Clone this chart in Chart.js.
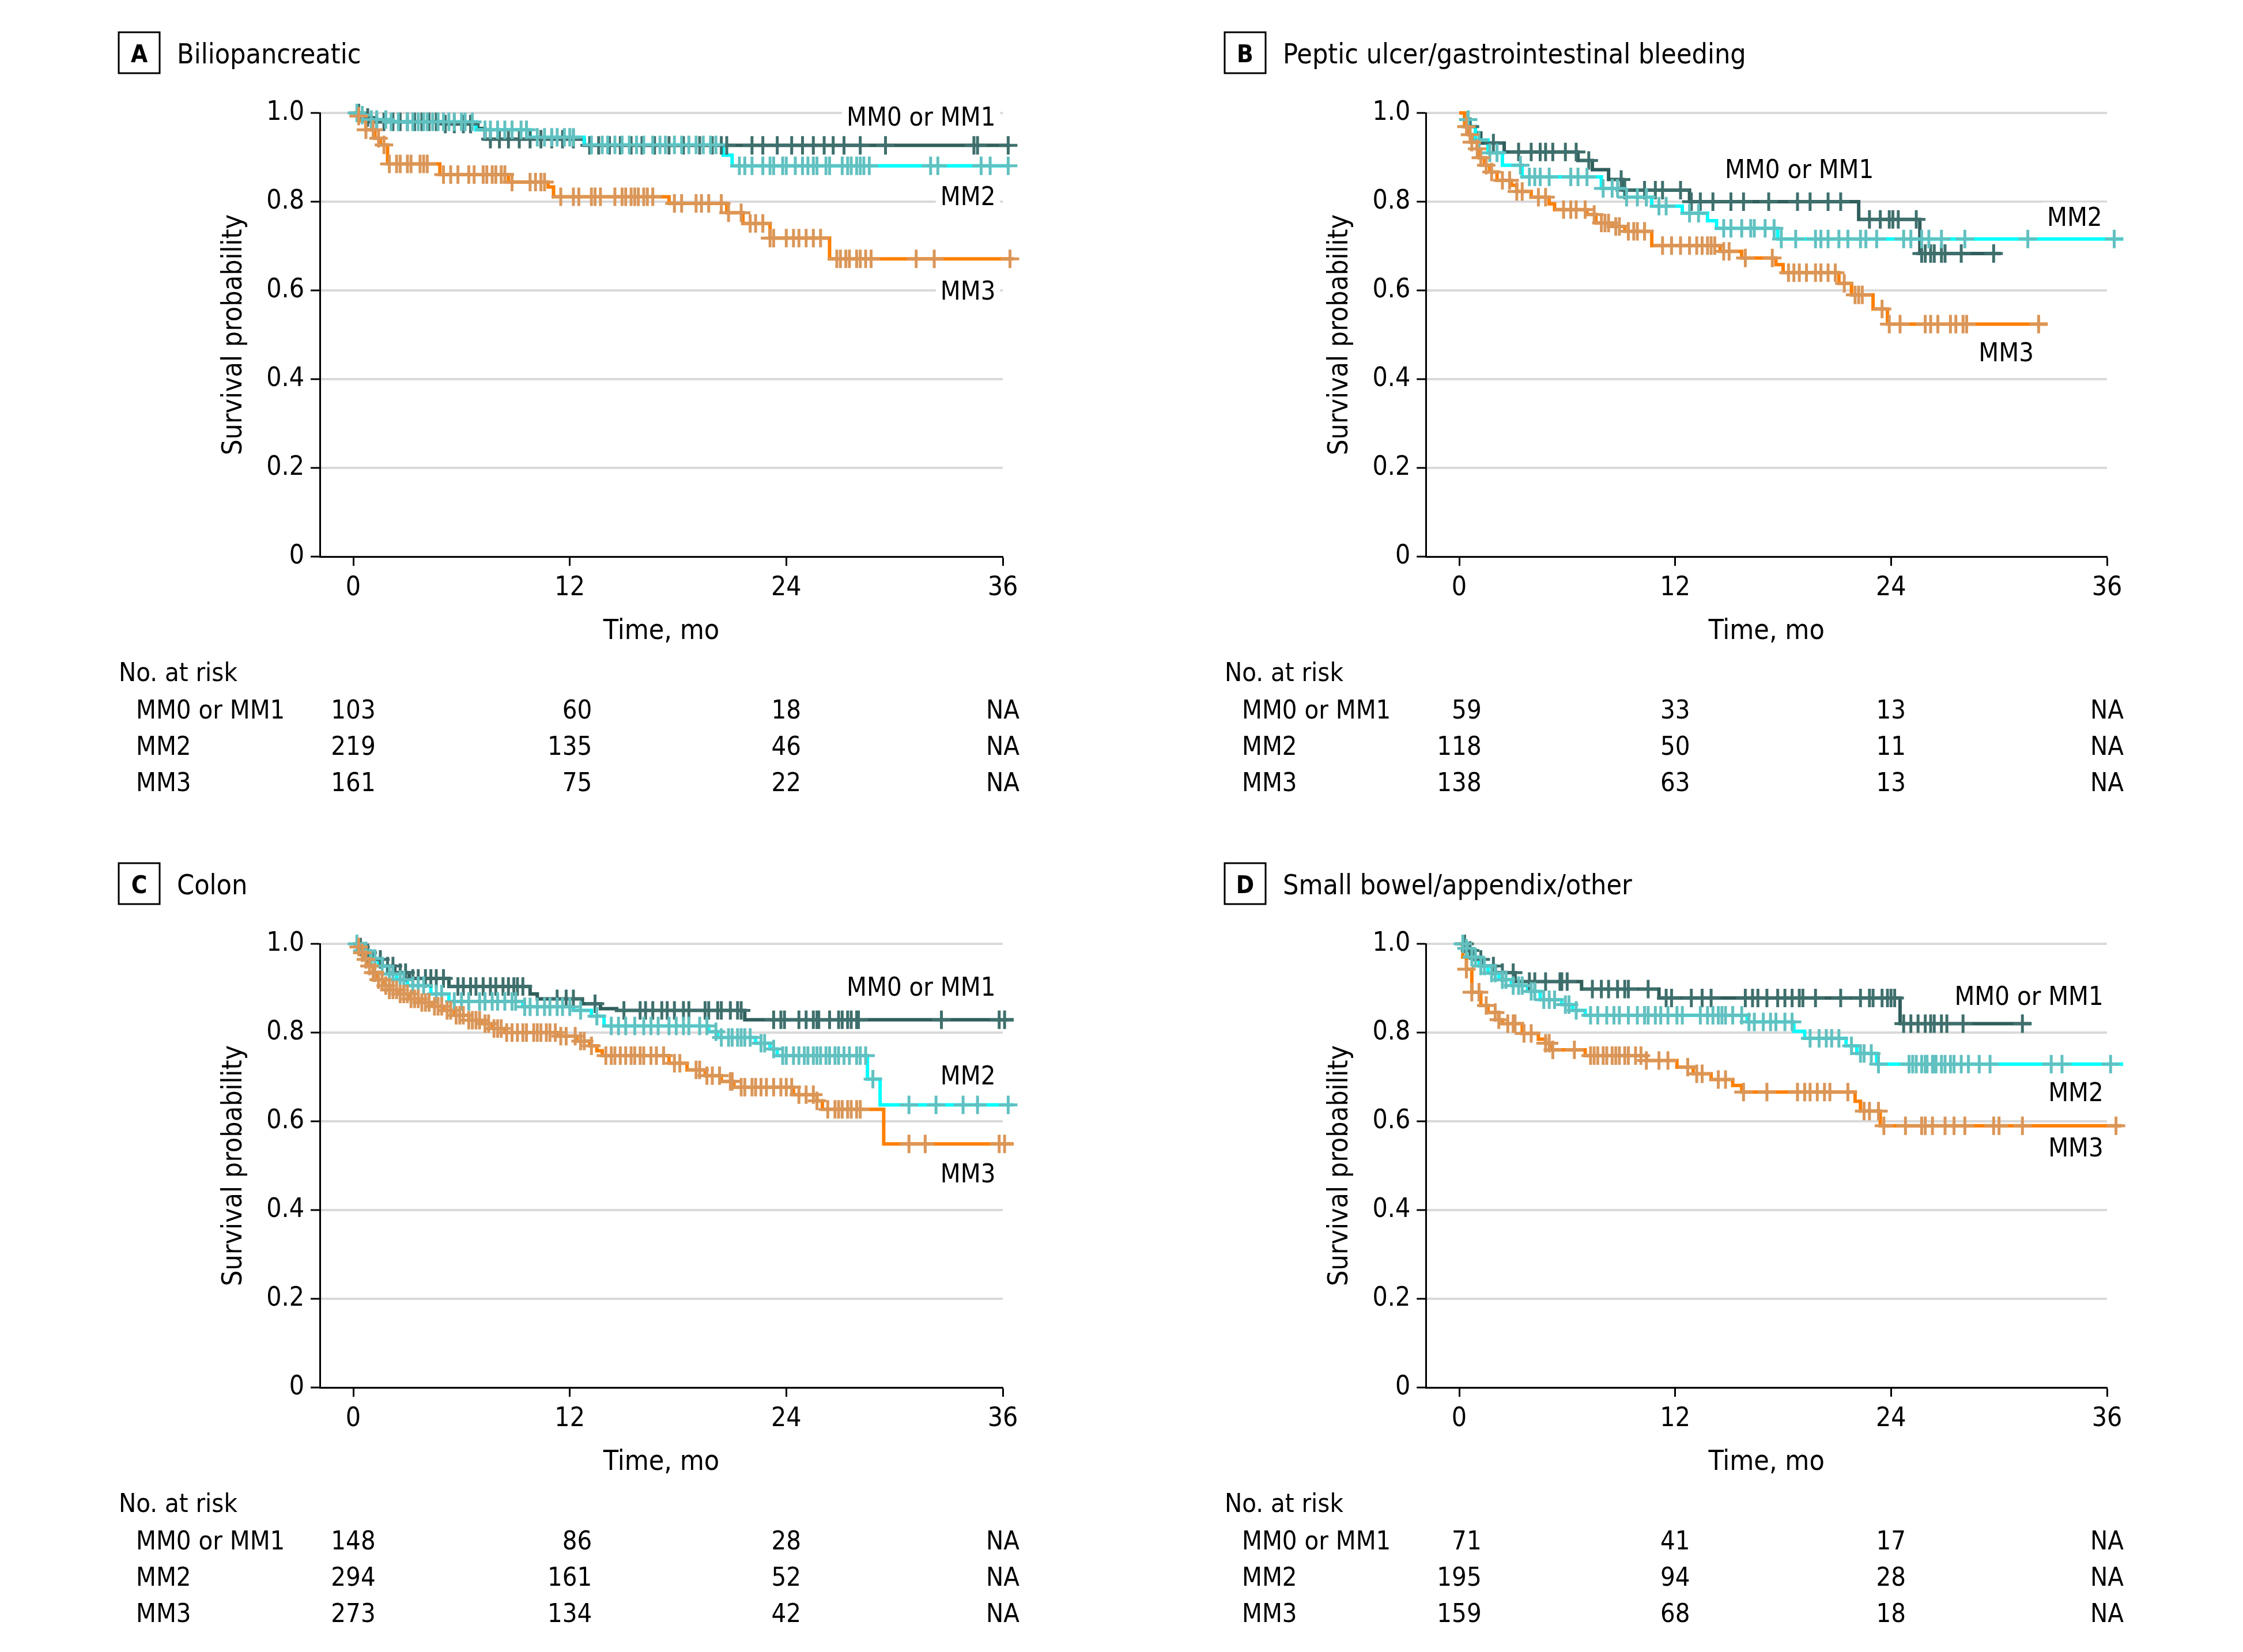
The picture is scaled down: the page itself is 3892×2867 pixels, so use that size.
<!DOCTYPE html>
<html>
<head>
<meta charset="utf-8">
<script src="https://cdn.jsdelivr.net/npm/chart.js@4.4.0/dist/chart.umd.min.js"></script>
<style>
  html, body { margin: 0; padding: 0; background: #fff; }
  #page { position: relative; width: 3892px; height: 2867px; background: #fff; overflow: hidden; }
  canvas { position: absolute; }
</style>
</head>
<body>
<div id="page">
  <canvas id="panelA" width="1946" height="1442" style="left:0px;top:0px"></canvas>
  <canvas id="panelB" width="1946" height="1442" style="left:1946px;top:0px"></canvas>
  <canvas id="panelC" width="1946" height="1425" style="left:0px;top:1442px"></canvas>
  <canvas id="panelD" width="1946" height="1425" style="left:1946px;top:1442px"></canvas>
</div>
<script>
const FONT = '"DejaVu Sans Condensed", "Open Sans", sans-serif'
const CAP = 0.73

// axes
const xTicks = [0, 12, 24, 36]
const xTickLabels = ['0', '12', '24', '36']
const yTicks = [0, 0.2, 0.4, 0.6, 0.8, 1.0]
const yTickLabels = ['0', '0.2', '0.4', '0.6', '0.8', '1.0']
const groupNames = ['MM0 or MM1', 'MM2', 'MM3']
const riskTimes = [0, 12, 24, 36]

// A - Biliopancreatic
const aTitle = 'Biliopancreatic'
const aMm01Time = [0, 0.4, 1.0, 5.0, 6.9, 7.3, 12.8, 36.4]
const aMm01Surv = [1, 0.99, 0.98, 0.975, 0.965, 0.941, 0.927, 0.927]
const aMm01Cens = [0.3, 0.8, 1.3, 1.7, 2.2, 2.6, 3.0, 3.4, 3.8, 4.2, 4.6, 5.1, 5.6, 6.1, 6.5, 7.6, 8.1, 8.6, 9.2, 9.8, 10.4, 11.0, 11.6, 12.2, 13.1, 13.6, 14.2, 14.8, 15.4, 16.0, 16.7, 17.5, 18.3, 19.2, 19.9, 20.4, 20.7, 22.1, 22.7, 23.5, 24.3, 24.9, 25.5, 26.1, 26.6, 27.2, 28.1, 29.5, 34.4, 34.6, 36.3]
const aMm2Time = [0, 0.3, 0.8, 2.0, 6.8, 9.8, 12.8, 20.5, 21.0, 36.4]
const aMm2Surv = [1, 0.995, 0.985, 0.98, 0.962, 0.945, 0.928, 0.905, 0.881, 0.881]
const aMm2Cens = [0.2, 0.5, 1.0, 1.3, 1.8, 2.1, 2.5, 3.0, 3.3, 3.6, 3.9, 4.1, 4.4, 4.7, 5.0, 5.3, 5.6, 6.0, 6.2, 6.6, 7.3, 7.6, 8.0, 8.4, 8.8, 9.3, 9.6, 10.2, 10.6, 11.0, 11.3, 11.7, 12.0, 12.2, 13.2, 13.8, 14.1, 14.5, 14.9, 15.3, 15.7, 16.1, 16.6, 17.0, 17.3, 17.8, 18.2, 18.6, 19.0, 19.4, 19.8, 20.1, 21.4, 21.7, 22.1, 22.7, 23.1, 23.3, 23.8, 24.0, 24.5, 24.9, 25.2, 25.5, 25.7, 26.2, 26.4, 27.1, 27.4, 27.6, 27.9, 28.1, 28.3, 28.6, 32.0, 32.4, 34.8, 35.3, 36.3]
const aMm3Time = [0, 0.2, 0.4, 0.7, 1.2, 1.5, 1.9, 4.8, 8.6, 10.8, 11.1, 17.5, 20.7, 21.6, 23.1, 26.4, 36.6]
const aMm3Surv = [1, 0.993, 0.982, 0.962, 0.943, 0.928, 0.885, 0.861, 0.844, 0.833, 0.811, 0.796, 0.775, 0.751, 0.718, 0.671, 0.671]
const aMm3Cens = [0.3, 0.7, 1.1, 1.4, 1.7, 2.0, 2.4, 2.6, 3.0, 3.2, 3.7, 3.9, 4.1, 5.0, 5.4, 5.8, 6.4, 6.7, 7.2, 7.4, 7.7, 7.9, 8.2, 8.4, 8.8, 9.8, 10.1, 10.4, 10.6, 11.5, 12.2, 12.5, 13.2, 13.4, 13.7, 14.5, 14.9, 15.1, 15.4, 15.6, 15.8, 16.1, 16.3, 16.6, 17.8, 18.2, 19.0, 19.3, 19.7, 20.4, 20.8, 21.5, 22.0, 22.3, 22.7, 23.1, 23.3, 24.0, 24.4, 24.7, 25.1, 25.5, 25.9, 26.8, 27.0, 27.3, 27.5, 27.9, 28.1, 28.4, 28.7, 31.2, 32.2, 36.4]
const aRiskMm01 = ['103', '60', '18', 'NA']
const aRiskMm2 = ['219', '135', '46', 'NA']
const aRiskMm3 = ['161', '75', '22', 'NA']

// B - Peptic ulcer/gastrointestinal bleeding
const bTitle = 'Peptic ulcer/gastrointestinal bleeding'
const bMm01Time = [0, 0.3, 0.6, 0.9, 1.2, 2.5, 6.6, 7.4, 8.3, 9.1, 12.8, 22.2, 25.6, 30.1]
const bMm01Surv = [1, 0.985, 0.969, 0.955, 0.932, 0.912, 0.893, 0.872, 0.85, 0.826, 0.8, 0.76, 0.683, 0.683]
const bMm01Cens = [0.6, 1.9, 3.3, 4.0, 4.5, 4.8, 5.2, 5.9, 6.5, 7.2, 9.0, 9.2, 10.3, 10.9, 11.3, 12.3, 12.9, 13.4, 14.1, 15.1, 15.8, 17.2, 18.8, 19.5, 20.5, 21.2, 22.8, 23.4, 23.9, 24.1, 24.4, 25.4, 25.7, 25.9, 26.2, 26.4, 26.8, 27.0, 27.9, 29.7]
const bMm2Time = [0, 0.3, 0.6, 0.9, 1.6, 2.4, 3.5, 7.9, 9.2, 10.7, 12.4, 13.8, 14.3, 17.7, 36.9]
const bMm2Surv = [1, 0.985, 0.969, 0.939, 0.91, 0.882, 0.856, 0.83, 0.81, 0.79, 0.774, 0.757, 0.74, 0.716, 0.716]
const bMm2Cens = [0.5, 1.1, 1.7, 2.1, 3.4, 3.9, 4.2, 4.5, 5.0, 6.2, 6.6, 7.1, 8.0, 8.5, 8.8, 9.3, 9.9, 10.4, 11.1, 11.5, 12.8, 13.3, 14.7, 15.1, 15.7, 16.2, 16.4, 17.0, 17.5, 17.9, 18.7, 19.8, 20.1, 20.5, 21.1, 21.6, 22.3, 22.6, 23.2, 24.7, 25.1, 25.7, 26.1, 26.8, 28.1, 31.6, 36.4]
const bMm3Time = [0, 0.3, 0.5, 0.7, 1.0, 1.1, 1.4, 1.7, 2.1, 2.9, 3.2, 4.0, 5.0, 5.3, 7.1, 7.6, 8.5, 9.2, 10.7, 14.5, 15.7, 17.6, 18.0, 21.1, 21.8, 23.0, 23.8, 32.7]
const bMm3Surv = [1, 0.969, 0.951, 0.934, 0.919, 0.899, 0.882, 0.867, 0.848, 0.837, 0.823, 0.81, 0.795, 0.782, 0.771, 0.752, 0.744, 0.733, 0.701, 0.688, 0.673, 0.658, 0.64, 0.616, 0.59, 0.558, 0.524, 0.524]
const bMm3Cens = [0.4, 0.6, 0.7, 1.0, 1.2, 1.5, 1.8, 2.4, 2.8, 3.2, 3.5, 4.4, 4.8, 5.8, 6.2, 6.5, 7.0, 7.5, 7.9, 8.1, 8.3, 8.7, 8.9, 9.4, 9.7, 9.9, 10.3, 11.3, 11.8, 12.3, 12.8, 13.2, 13.5, 13.8, 14.0, 14.2, 14.7, 15.0, 15.9, 17.4, 18.3, 18.6, 18.9, 19.3, 19.8, 20.1, 20.5, 20.9, 21.4, 22.0, 22.2, 22.4, 23.5, 23.9, 24.5, 25.9, 26.2, 26.6, 27.3, 27.6, 28.0, 28.2, 32.2]
const bRiskMm01 = ['59', '33', '13', 'NA']
const bRiskMm2 = ['118', '50', '11', 'NA']
const bRiskMm3 = ['138', '63', '13', 'NA']

// C - Colon
const cTitle = 'Colon'
const cMm01Time = [0, 0.3, 0.6, 1.1, 1.6, 2.3, 3.1, 5.3, 9.8, 10.2, 12.7, 13.7, 14.6, 21.7, 36.6]
const cMm01Surv = [1, 0.993, 0.98, 0.965, 0.95, 0.935, 0.922, 0.904, 0.887, 0.876, 0.865, 0.854, 0.85, 0.829, 0.829]
const cMm01Cens = [0.4, 0.8, 1.2, 1.5, 1.9, 2.2, 2.6, 2.9, 3.3, 3.6, 4.0, 4.3, 4.6, 5.0, 5.8, 6.1, 6.5, 6.8, 7.2, 7.6, 7.9, 8.3, 8.6, 8.9, 9.1, 9.4, 11.3, 11.8, 12.2, 13.4, 15.0, 15.9, 16.2, 16.6, 17.1, 17.4, 17.8, 18.3, 18.6, 19.5, 19.7, 20.2, 20.4, 20.9, 21.3, 21.5, 23.3, 23.7, 23.9, 24.7, 25.1, 25.5, 25.7, 25.8, 26.4, 26.9, 27.1, 27.4, 27.6, 27.9, 28.0, 32.6, 35.8, 36.1, 36.3]
const cMm2Time = [0, 0.3, 0.9, 1.4, 1.9, 2.4, 3.0, 4.3, 5.3, 9.4, 12.2, 13.2, 13.9, 19.7, 20.2, 22.3, 23.1, 23.5, 28.5, 29.2, 36.6]
const cMm2Surv = [1, 0.984, 0.967, 0.95, 0.932, 0.919, 0.906, 0.887, 0.87, 0.858, 0.85, 0.837, 0.815, 0.802, 0.789, 0.776, 0.763, 0.748, 0.695, 0.637, 0.637]
const cMm2Cens = [0.2, 0.5, 0.7, 1.0, 1.2, 1.6, 2.0, 2.2, 2.6, 2.8, 3.3, 3.6, 3.9, 4.6, 4.9, 5.6, 6.0, 6.4, 7.0, 7.3, 7.7, 8.0, 8.4, 8.8, 9.0, 9.5, 9.8, 10.2, 10.6, 10.9, 11.3, 11.6, 12.0, 12.6, 13.5, 14.3, 14.7, 15.1, 15.6, 16.1, 16.5, 16.9, 17.5, 17.9, 18.3, 18.6, 19.2, 19.6, 20.1, 20.4, 20.8, 21.0, 21.3, 21.5, 21.7, 22.0, 22.6, 22.8, 23.3, 23.8, 24.0, 24.4, 24.7, 25.0, 25.2, 25.5, 25.7, 25.9, 26.2, 26.4, 26.7, 26.9, 27.2, 27.5, 27.9, 28.1, 28.4, 28.8, 30.8, 32.3, 33.8, 34.6, 36.3]
const cMm3Time = [0, 0.2, 0.5, 0.6, 0.8, 1.1, 1.3, 1.7, 2.0, 2.5, 3.1, 3.7, 4.4, 5.0, 5.6, 6.4, 7.1, 7.7, 8.4, 11.3, 12.4, 13.1, 13.5, 13.8, 17.5, 18.5, 19.5, 20.4, 21.1, 24.4, 25.7, 26.0, 29.4, 36.6]
const cMm3Surv = [1, 0.993, 0.98, 0.965, 0.95, 0.935, 0.919, 0.906, 0.896, 0.887, 0.876, 0.868, 0.859, 0.85, 0.839, 0.828, 0.82, 0.809, 0.8, 0.792, 0.781, 0.77, 0.759, 0.748, 0.731, 0.716, 0.703, 0.69, 0.677, 0.66, 0.646, 0.627, 0.549, 0.549]
const cMm3Cens = [0.3, 0.5, 0.7, 0.9, 1.1, 1.2, 1.4, 1.6, 1.8, 2.0, 2.2, 2.4, 2.6, 2.8, 3.0, 3.2, 3.4, 3.6, 3.8, 4.0, 4.2, 4.5, 4.7, 4.9, 5.2, 5.4, 5.7, 5.9, 6.1, 6.4, 6.6, 6.8, 7.0, 7.3, 7.5, 7.8, 8.0, 8.2, 8.5, 8.8, 9.1, 9.4, 9.6, 10.0, 10.2, 10.4, 10.7, 10.9, 11.2, 11.5, 11.8, 12.3, 12.6, 12.8, 13.2, 14.0, 14.3, 14.5, 14.8, 15.1, 15.4, 15.6, 15.9, 16.1, 16.5, 16.8, 17.2, 17.8, 18.1, 19.0, 19.2, 19.6, 19.9, 20.3, 20.9, 21.0, 21.5, 21.7, 22.1, 22.3, 22.6, 22.9, 23.3, 23.7, 24.0, 24.3, 24.7, 25.1, 25.5, 25.7, 26.3, 26.7, 26.9, 27.1, 27.4, 27.6, 27.9, 28.1, 30.8, 31.7, 35.8, 36.1]
const cRiskMm01 = ['148', '86', '28', 'NA']
const cRiskMm2 = ['294', '161', '52', 'NA']
const cRiskMm3 = ['273', '134', '42', 'NA']

// D - Small bowel/appendix/other
const dTitle = 'Small bowel/appendix/other'
const dMm01Time = [0, 0.4, 0.8, 1.3, 2.0, 3.1, 6.8, 11.1, 24.5, 31.8]
const dMm01Surv = [1, 0.985, 0.965, 0.95, 0.935, 0.915, 0.898, 0.878, 0.82, 0.82]
const dMm01Cens = [0.3, 0.6, 1.2, 1.9, 2.4, 3.0, 3.9, 4.2, 4.8, 5.6, 5.7, 6.0, 7.4, 7.9, 8.3, 8.8, 9.2, 9.4, 10.5, 11.5, 11.8, 12.9, 13.5, 14.0, 15.9, 16.3, 16.6, 17.1, 17.7, 18.1, 18.5, 18.9, 19.1, 19.8, 21.2, 22.3, 22.8, 23.0, 23.5, 23.8, 24.0, 24.2, 24.7, 25.1, 25.5, 25.9, 26.2, 26.4, 26.8, 27.1, 28.0, 31.3]
const dMm2Time = [0, 0.3, 0.6, 1.1, 1.6, 2.2, 2.9, 3.8, 4.5, 5.7, 6.3, 7.0, 16.0, 18.6, 19.2, 21.5, 22.1, 23.2, 36.9]
const dMm2Surv = [1, 0.99, 0.97, 0.95, 0.934, 0.919, 0.906, 0.893, 0.874, 0.863, 0.85, 0.839, 0.824, 0.803, 0.787, 0.77, 0.753, 0.729, 0.729]
const dMm2Cens = [0.2, 0.4, 0.7, 0.9, 1.2, 1.4, 1.8, 2.0, 2.4, 2.6, 3.0, 3.3, 3.5, 4.0, 4.2, 4.7, 5.0, 5.3, 5.9, 6.1, 6.5, 7.3, 7.7, 8.2, 8.6, 8.9, 9.4, 9.9, 10.3, 10.5, 10.9, 11.2, 11.6, 12.1, 12.4, 13.4, 13.8, 14.1, 14.4, 14.6, 14.8, 15.2, 15.7, 16.1, 16.4, 16.9, 17.3, 17.6, 18.1, 18.5, 19.5, 20.0, 20.4, 20.7, 21.1, 21.8, 22.3, 22.5, 22.9, 23.3, 25.0, 25.2, 25.4, 25.7, 25.9, 26.0, 26.3, 26.4, 26.5, 26.8, 27.0, 27.3, 27.5, 27.9, 28.3, 28.9, 29.5, 32.9, 33.5, 36.2, 36.5]
const dMm3Time = [0, 0.2, 0.4, 0.7, 1.2, 1.6, 2.2, 2.4, 3.5, 4.4, 4.8, 5.1, 7.0, 10.4, 12.1, 13.0, 14.0, 15.2, 15.7, 22.0, 22.3, 23.4, 36.8]
const dMm3Surv = [1, 0.97, 0.943, 0.891, 0.861, 0.845, 0.829, 0.82, 0.798, 0.785, 0.776, 0.761, 0.748, 0.737, 0.722, 0.707, 0.694, 0.681, 0.666, 0.645, 0.623, 0.59, 0.59]
const dMm3Cens = [0.4, 0.7, 1.1, 1.5, 2.0, 2.2, 2.7, 3.0, 3.1, 3.6, 4.0, 4.8, 5.0, 5.2, 6.4, 7.3, 7.5, 7.7, 8.0, 8.2, 8.5, 8.7, 8.9, 9.2, 9.4, 9.8, 10.1, 10.4, 11.1, 11.6, 12.7, 13.2, 13.5, 14.4, 14.8, 15.8, 17.1, 18.8, 19.2, 19.5, 19.9, 20.3, 20.6, 21.6, 22.5, 22.8, 23.3, 23.6, 24.8, 25.7, 25.9, 26.3, 27.0, 27.5, 28.1, 29.7, 30.0, 31.3, 36.5]
const dRiskMm01 = ['71', '41', '17', 'NA']
const dRiskMm2 = ['195', '94', '28', 'NA']
const dRiskMm3 = ['159', '68', '18', 'NA']

// styles
const lineColors = ['#2F5E5B', '#00FFFF', '#FF7F00']
const censorColors = ['#3E6F6C', '#62C0C0', '#DA9658']
const X_MIN = -1.85

function survAt(times, surv, t) {
  let s = surv[0]
  for (let i = 0; i < times.length; i++) {
    if (times[i] <= t) s = surv[i]
  }
  return s
}

function txt(ctx, s, x, y, size, align, weight) {
  ctx.font = (weight || 'normal') + ' ' + size + 'px ' + FONT
  ctx.textAlign = align
  ctx.textBaseline = 'alphabetic'
  ctx.fillStyle = '#000'
  ctx.fillText(s, x, y)
}

function makeDecor(spec) {
  return {
    id: 'panelDecor',
    beforeDatasetsDraw(chart) {
      const ctx = chart.ctx
      const xs = chart.scales.x, ys = chart.scales.y
      ctx.save()
      ctx.font = '45px ' + FONT
      spec.labels.forEach((lb, i) => {
        const w = ctx.measureText(groupNames[i]).width
        let x = xs.getPixelForValue(lb.t)
        const y = ys.getPixelForValue(lb.s)
        x -= lb.align === 'center' ? w / 2 : w
        ctx.fillStyle = '#fff'
        ctx.fillRect(x - 8, y - 24, w + 16, 48)
        txt(ctx, groupNames[i], x, y + CAP * 45 / 2, 45, 'left')
      })
      ctx.restore()
    },
    afterDraw(chart) {
      const ctx = chart.ctx
      const xs = chart.scales.x, ys = chart.scales.y
      const x0 = xs.getPixelForValue(0)
      const y0 = ys.getPixelForValue(0)
      const y1 = ys.getPixelForValue(1)
      ctx.save()
      // panel letter box and title
      ctx.strokeStyle = '#000'
      ctx.lineWidth = 3
      ctx.strokeRect(x0 - 407, y1 - 140, 71, 71)
      txt(ctx, spec.letter, x0 - 371.5, y1 - 88, 42, 'center', 'bold')
      txt(ctx, spec.title, x0 - 306, y1 - 86, 48, 'left')
      // y axis title
      ctx.save()
      ctx.translate(x0 - 194, (y0 + y1) / 2)
      ctx.rotate(-Math.PI / 2)
      txt(ctx, 'Survival probability', 0, 0, 48, 'center')
      ctx.restore()
      // x axis title
      txt(ctx, 'Time, mo', (xs.left + xs.right) / 2, y0 + 143, 48, 'center')
      // risk table
      txt(ctx, 'No. at risk', x0 - 407, y0 + 216, 45, 'left')
      const rowY = [y0 + 281, y0 + 344, y0 + 407]
      ctx.font = '45px ' + FONT
      riskTimes.forEach((t, j) => {
        const tx = xs.getPixelForValue(t)
        let maxW = 0
        spec.risk.forEach(r => { maxW = Math.max(maxW, ctx.measureText(r[j]).width) })
        spec.risk.forEach((r, i) => {
          txt(ctx, r[j], tx + maxW / 2, rowY[i], 45, 'right')
        })
      })
      groupNames.forEach((g, i) => txt(ctx, g, x0 - 377, rowY[i], 45, 'left'))
      ctx.restore()
    }
  }
}

function buildPanel(canvasId, box, spec, curves) {
  const unit = (box.x36 - box.x0) / 36
  const chartLeft = box.x0 + X_MIN * unit
  const datasets = []
  curves.forEach((c, i) => {
    datasets.push({
      data: c.time.map((t, k) => ({ x: t, y: c.surv[k] })),
      showLine: true,
      stepped: 'before',
      borderColor: lineColors[i],
      borderWidth: 6,
      pointRadius: 0,
      clip: false,
      order: 10 - i
    })
  })
  curves.forEach((c, i) => {
    datasets.push({
      data: c.cens.map(t => ({ x: t, y: survAt(c.time, c.surv, t) })),
      showLine: false,
      pointStyle: 'cross',
      pointRadius: 16,
      borderWidth: 5,
      borderColor: censorColors[i],
      backgroundColor: censorColors[i],
      clip: false,
      order: 5 - i
    })
  })

  new Chart(document.getElementById(canvasId).getContext('2d'), {
    type: 'scatter',
    data: { datasets },
    options: {
      responsive: false,
      animation: false,
      devicePixelRatio: 1,
      events: [],
      layout: {
        padding: { left: 0, top: box.y1 - box.top, right: box.left + box.w - box.x36, bottom: 0 }
      },
      plugins: { legend: { display: false }, tooltip: { enabled: false } },
      scales: {
        x: {
          type: 'linear',
          min: X_MIN,
          max: 36,
          afterBuildTicks: s => { s.ticks = xTicks.map(v => ({ value: v })) },
          afterFit: s => { s.height = box.top + box.h - box.y0 },
          ticks: {
            callback: v => xTickLabels[xTicks.indexOf(v)],
            font: { family: FONT, size: 46 },
            color: '#000',
            padding: 11,
            maxRotation: 0,
            autoSkip: false
          },
          grid: { drawOnChartArea: false, tickLength: 16, tickWidth: 3, tickColor: '#000' },
          border: { color: '#000', width: 3 }
        },
        y: {
          type: 'linear',
          min: 0,
          max: 1,
          afterBuildTicks: s => { s.ticks = yTicks.map(v => ({ value: v })) },
          afterFit: s => { s.width = chartLeft - box.left },
          ticks: {
            callback: v => yTickLabels[yTicks.indexOf(v)],
            font: { family: FONT, size: 46 },
            color: '#000',
            padding: 11
          },
          grid: { color: '#D9D9D9', lineWidth: 4, tickLength: 16, tickWidth: 3, tickColor: '#000' },
          border: { color: '#000', width: 3 }
        }
      }
    },
    plugins: [makeDecor(spec)]
  })
}

buildPanel('panelA',
  { left: 0, top: 0, w: 1946, h: 1442, x0: 613, x36: 1740, y1: 196, y0: 966 },
  { letter: 'A', title: aTitle, risk: [aRiskMm01, aRiskMm2, aRiskMm3],
    labels: [{ t: 35.6, s: 0.993 }, { t: 35.6, s: 0.814 }, { t: 35.6, s: 0.60 }] },
  [{ time: aMm01Time, surv: aMm01Surv, cens: aMm01Cens },
   { time: aMm2Time, surv: aMm2Surv, cens: aMm2Cens },
   { time: aMm3Time, surv: aMm3Surv, cens: aMm3Cens }])

buildPanel('panelB',
  { left: 1946, top: 0, w: 1946, h: 1442, x0: 2532, x36: 3656, y1: 196, y0: 966 },
  { letter: 'B', title: bTitle, risk: [bRiskMm01, bRiskMm2, bRiskMm3],
    labels: [{ t: 18.9, s: 0.874, align: 'center' }, { t: 34.2, s: 0.767, align: 'center' }, { t: 30.4, s: 0.461, align: 'center' }] },
  [{ time: bMm01Time, surv: bMm01Surv, cens: bMm01Cens },
   { time: bMm2Time, surv: bMm2Surv, cens: bMm2Cens },
   { time: bMm3Time, surv: bMm3Surv, cens: bMm3Cens }])

buildPanel('panelC',
  { left: 0, top: 1442, w: 1946, h: 1425, x0: 613, x36: 1740, y1: 1638, y0: 2408 },
  { letter: 'C', title: cTitle, risk: [cRiskMm01, cRiskMm2, cRiskMm3],
    labels: [{ t: 35.6, s: 0.904 }, { t: 35.6, s: 0.704 }, { t: 35.6, s: 0.484 }] },
  [{ time: cMm01Time, surv: cMm01Surv, cens: cMm01Cens },
   { time: cMm2Time, surv: cMm2Surv, cens: cMm2Cens },
   { time: cMm3Time, surv: cMm3Surv, cens: cMm3Cens }])

buildPanel('panelD',
  { left: 1946, top: 1442, w: 1946, h: 1425, x0: 2532, x36: 3656, y1: 1638, y0: 2408 },
  { letter: 'D', title: dTitle, risk: [dRiskMm01, dRiskMm2, dRiskMm3],
    labels: [{ t: 35.8, s: 0.884 }, { t: 35.8, s: 0.667 }, { t: 35.8, s: 0.542 }] },
  [{ time: dMm01Time, surv: dMm01Surv, cens: dMm01Cens },
   { time: dMm2Time, surv: dMm2Surv, cens: dMm2Cens },
   { time: dMm3Time, surv: dMm3Surv, cens: dMm3Cens }])
</script>
</body>
</html>
